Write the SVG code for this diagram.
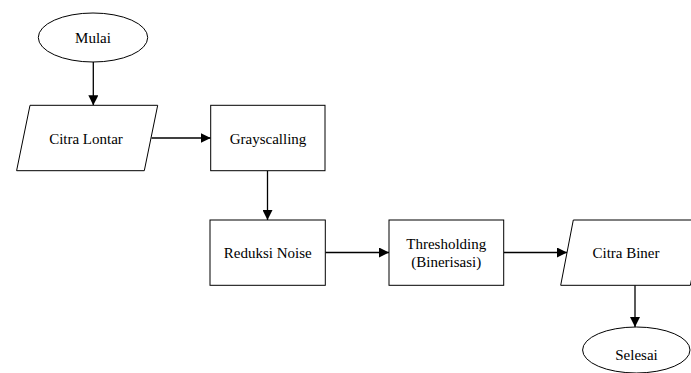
<svg xmlns="http://www.w3.org/2000/svg" width="691" height="373" viewBox="0 0 691 373">
<style>
.s{fill:#fff;stroke:#000;stroke-width:1}
.t{font-family:"Liberation Serif","Times New Roman",serif;font-size:15px;fill:#000;text-anchor:middle}
.c{fill:none;stroke:#000;stroke-width:1.3}
</style>
<defs>
<marker id="ah" viewBox="0 0 10 10" refX="10" refY="5" markerWidth="10" markerHeight="10" markerUnits="userSpaceOnUse" orient="auto">
<path d="M0,0 L10,5 L0,10 Z" fill="#000"/>
</marker>
</defs>
<rect width="691" height="373" fill="#fff"/>
<g id="connectors">
<line class="c" x1="93.3" y1="62" x2="93.3" y2="105.3" marker-end="url(#ah)"/>
<line class="c" x1="151.5" y1="138" x2="210.7" y2="138" marker-end="url(#ah)"/>
<line class="c" x1="267.5" y1="170.7" x2="267.5" y2="220" marker-end="url(#ah)"/>
<line class="c" x1="325.3" y1="252.5" x2="389" y2="252.5" marker-end="url(#ah)"/>
<line class="c" x1="503.7" y1="252.5" x2="567" y2="252.5" marker-end="url(#ah)"/>
<line class="c" x1="635" y1="285.3" x2="635" y2="327" marker-end="url(#ah)"/>
</g>
<g id="mulai">
<ellipse class="s" cx="93" cy="37.5" rx="54.7" ry="24.5"/>
<text class="t" x="93" y="43.3">Mulai</text>
</g>
<g id="citra-lontar">
<polygon class="s" points="30,105.3 157.7,105.3 144.3,170.7 16.6,170.7"/>
<text class="t" x="86" y="144">Citra Lontar</text>
</g>
<g id="grayscalling">
<rect class="s" x="210.7" y="105.3" width="114.3" height="65.4"/>
<text class="t" x="268" y="144">Grayscalling</text>
</g>
<g id="reduksi-noise">
<rect class="s" x="210" y="220" width="115.3" height="65.3"/>
<text class="t" x="267.7" y="257.7">Reduksi Noise</text>
</g>
<g id="thresholding">
<rect class="s" x="389" y="220" width="114.7" height="65.3"/>
<text class="t" x="446.3" y="249.3">Thresholding</text>
<text class="t" x="446.3" y="267.3">(Binerisasi)</text>
</g>
<g id="citra-biner">
<polygon class="s" points="573.3,220 703,220 690.4,285.3 560.7,285.3"/>
<text class="t" x="626" y="257.7">Citra Biner</text>
</g>
<g id="selesai">
<ellipse class="s" cx="636.3" cy="350" rx="53.7" ry="23"/>
<text class="t" x="636.5" y="359.5">Selesai</text>
</g>
</svg>
